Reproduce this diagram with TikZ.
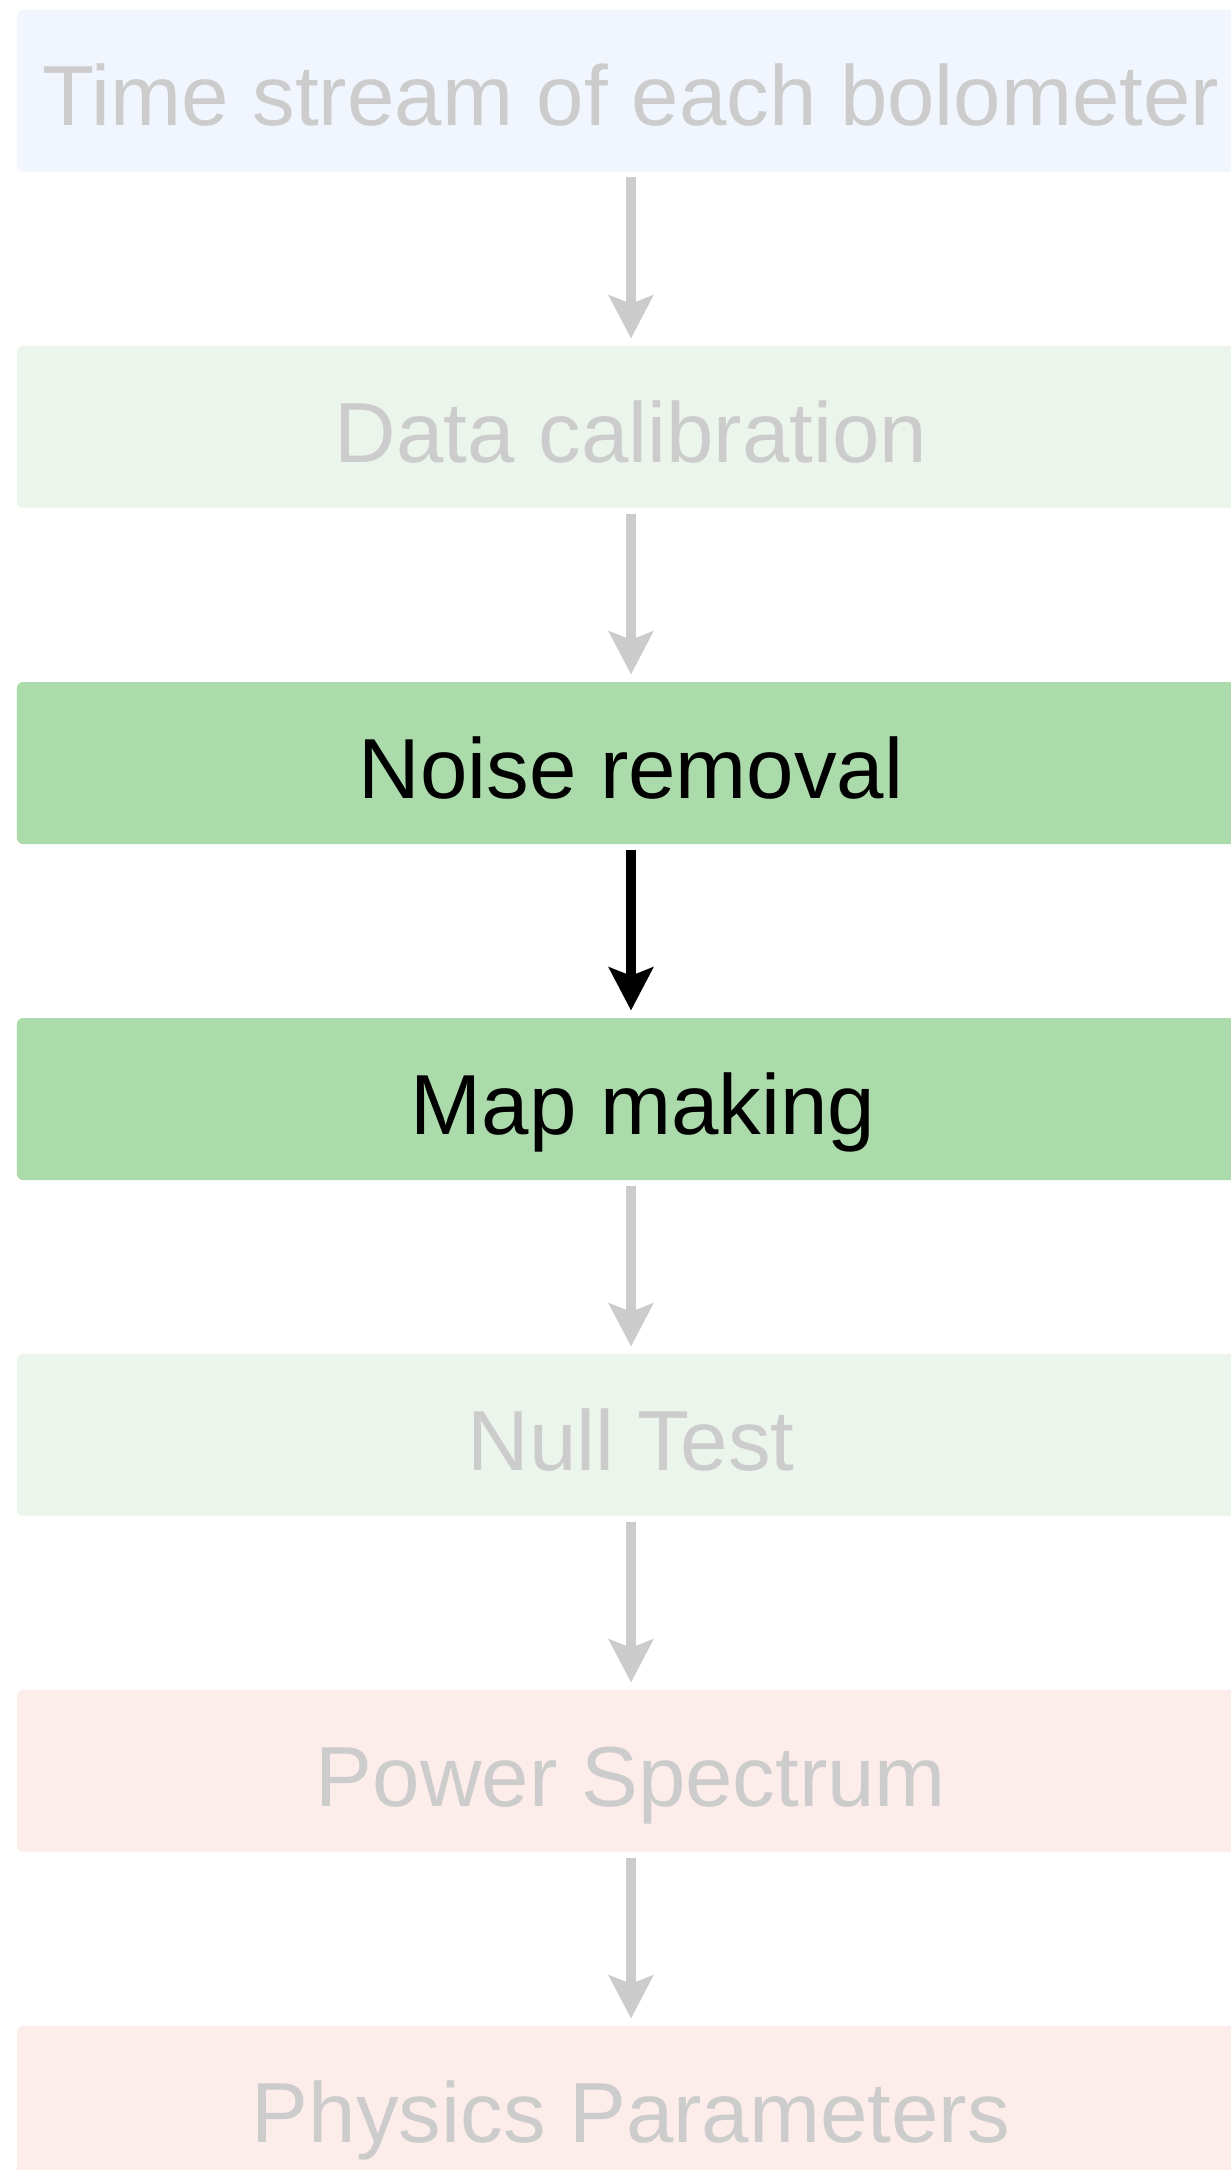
\documentclass[tikz,border=0pt]{standalone}
\usepackage{xcolor}
\usepackage{fontspec}
\setmainfont{Liberation Sans}
\usepackage{tikz}
\usetikzlibrary{arrows.meta, positioning}
\definecolor{blueback}{HTML}{F1F5FE}
\definecolor{greenback}{HTML}{EBF5EC}
\definecolor{greenactive}{HTML}{ABDBAA}
\definecolor{redback}{HTML}{FDEDEA}
\definecolor{greyout}{HTML}{CCCCCC}
\tikzset{
    stage/.style={rectangle, rounded corners=2.4pt, minimum width=491.2pt, minimum height=64.8pt, text height=29pt, text depth=1pt, inner sep=0pt, font=\fontsize{34.1}{40}\selectfont},
    faded/.style={stage, text=greyout},
    current/.style={stage, fill=greenactive, text=black},
    arrow/.style={-{Stealth[length=17.2pt, width=17.6pt, inset=3.3pt]}, line width=4.3pt, draw=greyout, shorten <=2pt, shorten >=2.8pt},
    currentarrow/.style={arrow, draw=black}
}

\begin{document}
\begin{tikzpicture}[x=0.4pt, y=-0.4pt, node distance=69.2pt]
            \useasboundingbox (0,0) rectangle (1231,2170);
            \node (stream) [faded, fill=blueback] at (631,91) {Time stream of each bolometer};
            \node (calib) [faded, fill=greenback, below=of stream] {Data calibration};
            \node (noise) [current, below=of calib] {Noise removal};
            \node (mapping) [current, below=of noise] {\ Map making};
            \node (null) [faded, fill=greenback, below=of mapping] {Null Test};
            \node (spectrum) [faded, fill=redback, below=of null] {Power Spectrum};
            \node (params) [faded, fill=redback, below=of spectrum] {Physics Parameters};

            \draw[arrow] (stream) -- (calib);
            \draw[arrow] (calib) -- (noise);
            \draw[currentarrow] (noise) -- (mapping);
            \draw[arrow] (mapping) -- (null);
            \draw[arrow] (null) -- (spectrum);
            \draw[arrow] (spectrum) -- (params);
        \end{tikzpicture}
\end{document}
